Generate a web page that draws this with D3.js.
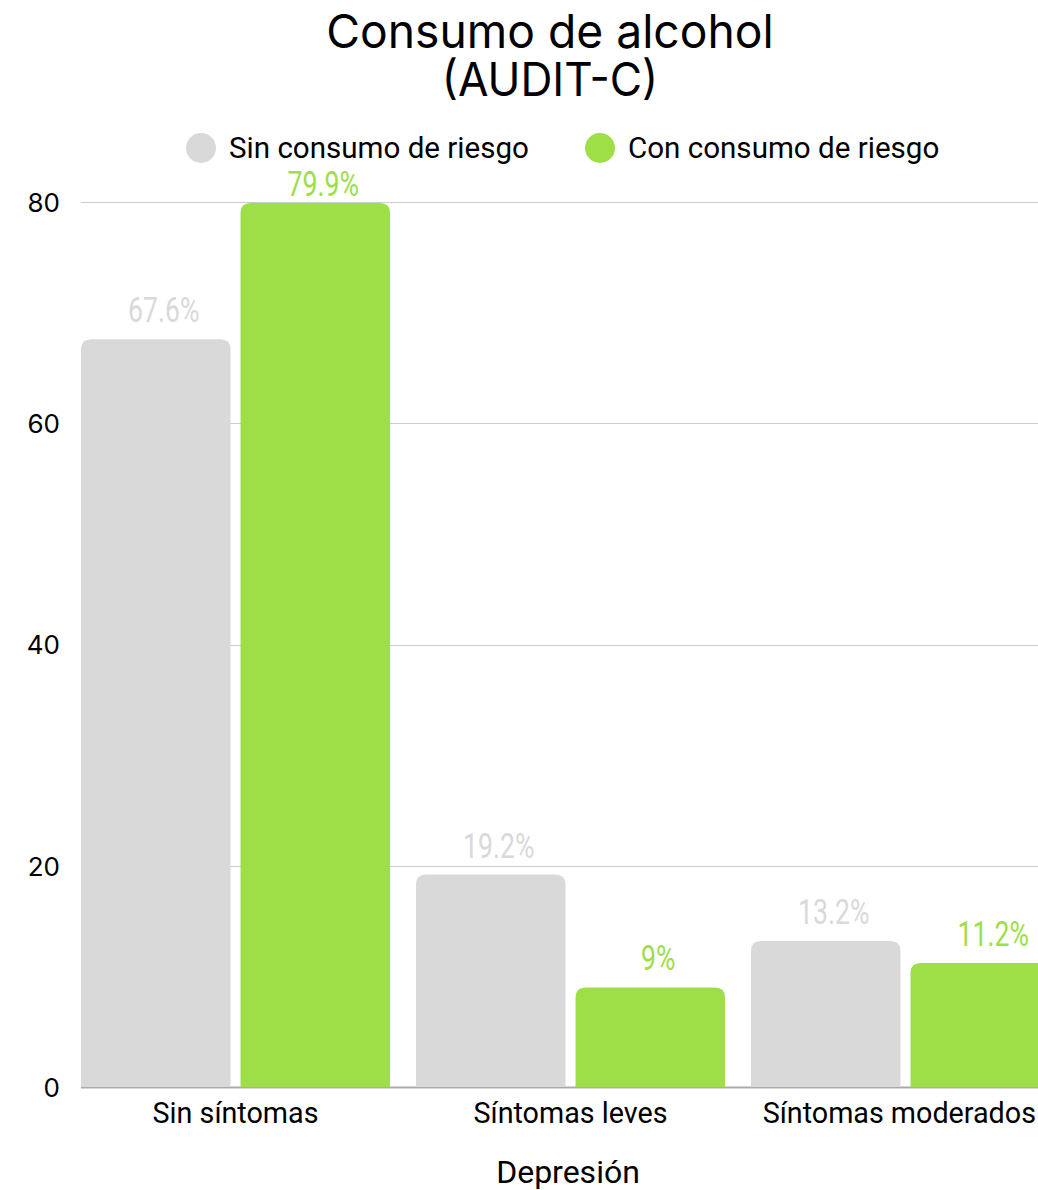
<!DOCTYPE html>
<html><head><meta charset="utf-8">
<script src="https://cdn.jsdelivr.net/npm/d3@7"></script>
<style>body{margin:0;background:#fff;}svg{display:block;}</style>
</head><body>
<svg id="c" width="1038" height="1190"></svg>
<script>
const categories = ["Sin síntomas", "Síntomas leves", "Síntomas moderados"];
const seriesNames = ["Sin consumo de riesgo", "Con consumo de riesgo"];
const sinRiesgo = [67.6, 19.2, 13.2];
const conRiesgo = [79.9, 9, 11.2];
const valueLabelsSin = ["67.6%", "19.2%", "13.2%"];
const valueLabelsCon = ["79.9%", "9%", "11.2%"];
const yTicks = [0, 20, 40, 60, 80];
const titleLines = ["Consumo de alcohol", "(AUDIT-C)"];
const xAxisTitle = "Depresión";
const colors = ["#d9d9d9", "#9ede47"];

(function(){
const svg = d3.select("#c");
const W = 1038, H = 1190;
const mLeft = 81, mRight = 1060, mTop = 202, mBottom = 1087;

const y = d3.scaleLinear().domain([0, 80]).range([mBottom, mTop]);
const x0 = d3.scaleBand().domain(categories).range([mLeft, mRight]).paddingInner(0.0776).paddingOuter(0);
const x1 = d3.scaleBand().domain(seriesNames).range([0, x0.bandwidth()]).paddingInner(0.063);

function condense(sel, k){
  sel.each(function(d,i){
    const kk = typeof k === "function" ? k(d,i) : k;
    const w = this.getComputedTextLength();
    d3.select(this).attr("textLength", w*kk).attr("lengthAdjust","spacingAndGlyphs");
  });
}

svg.append("defs").append("clipPath").attr("id","clip")
  .append("rect").attr("x",0).attr("y",0).attr("width",W).attr("height",H);

// title
svg.append("g").selectAll("text").data(titleLines).join("text")
  .attr("x", 550).attr("y", (d,i)=> i===0 ? 48 : 96)
  .attr("text-anchor","middle")
  .attr("font-family","Inter, 'Liberation Sans', sans-serif")
  .attr("font-size", 47)
  .attr("fill","#000")
  .text(d=>d)
  .call(condense, (d,i)=> i===0 ? 0.983 : 0.94);

// legend
const legX = [201, 600];
const leg = svg.append("g").selectAll("g").data(seriesNames).join("g")
  .attr("transform",(d,i)=>`translate(${legX[i]},148)`);
leg.append("circle").attr("r",15).attr("fill",(d,i)=>colors[i]);
leg.append("text").attr("x",28).attr("y",10)
  .attr("font-family","Roboto, sans-serif").attr("font-size",30).attr("fill","#000")
  .text(d=>d).call(condense, 0.985);

// gridlines
svg.append("g").selectAll("line").data(yTicks.filter(d=>d>0)).join("line")
  .attr("x1",mLeft).attr("x2",W).attr("y1",d=>Math.round(y(d))+0.5).attr("y2",d=>Math.round(y(d))+0.5)
  .attr("stroke","#cccccc").attr("stroke-width",1);
svg.append("line").attr("x1",mLeft).attr("x2",W).attr("y1",mBottom+0.5).attr("y2",mBottom+0.5)
  .attr("stroke","#aaaaaa").attr("stroke-width",2);

// y axis labels
const yAxis = d3.axisLeft(y).tickValues(yTicks).tickSize(0).tickPadding(0);
const yg = svg.append("g").attr("transform",`translate(60,0)`).call(yAxis);
yg.select(".domain").remove();
yg.selectAll("text").attr("font-family","Inter, 'Liberation Sans', sans-serif")
  .attr("font-size",26).attr("fill","#000").attr("dy","0.36em");

function barPath(x, yTop, w, h, r){
  r = Math.min(r, h, w/2);
  return `M${x},${yTop+h}V${yTop+r}Q${x},${yTop} ${x+r},${yTop}H${x+w-r}Q${x+w},${yTop} ${x+w},${yTop+r}V${yTop+h}Z`;
}
const data = categories.map((c,i)=>({cat:c, vals:[
  {s:seriesNames[0], v:sinRiesgo[i], lab:valueLabelsSin[i], ci:0},
  {s:seriesNames[1], v:conRiesgo[i], lab:valueLabelsCon[i], ci:1}]}));
const bars = svg.append("g").attr("clip-path","url(#clip)");
const grp = bars.selectAll("g").data(data).join("g")
  .attr("transform",d=>`translate(${x0(d.cat)},0)`);
grp.selectAll("path").data(d=>d.vals).join("path")
  .attr("d",d=>barPath(x1(d.s), y(d.v), x1.bandwidth(), mBottom - y(d.v), 10))
  .attr("fill",d=>colors[d.ci]);

// value labels (condensed via horizontal scale)
const flat = data.flatMap(d=>d.vals.map(v=>Object.assign({cat:d.cat}, v)));
svg.append("g").selectAll("text").data(flat).join("text")
  .attr("transform",d=>`translate(${x0(d.cat)+x1(d.s)+x1.bandwidth()/2+8},${Math.max(y(d.v)-17, 196)}) scale(0.76,1)`)
  .attr("text-anchor","middle")
  .attr("font-family","Roboto, sans-serif").attr("font-size",35).attr("font-weight",400)
  .attr("fill",d=>colors[d.ci])
  .text(d=>d.lab);

// x axis labels
const xg = svg.append("g").attr("transform",`translate(0,${mBottom})`)
  .call(d3.axisBottom(x0).tickSize(0).tickPadding(0));
xg.select(".domain").remove();
xg.selectAll("text").attr("font-family","Roboto, sans-serif").attr("font-size",29)
  .attr("fill","#000").attr("dy",0).attr("y",36)
  .call(condense, 0.99);
xg.selectAll(".tick").each(function(d){
  const t = d3.select(this).select("text");
  const w = +t.attr("textLength");
  const cx = x0(d)+x0.bandwidth()/2;
  if (cx + w/2 > W-2) t.attr("x", (W-2-w/2) - cx);
});

svg.append("text").attr("x",568).attr("y",1183).attr("text-anchor","middle")
  .attr("font-family","Roboto, sans-serif").attr("font-size",32).attr("fill","#000")
  .text(xAxisTitle).call(condense, 1.0);
})();
</script>
</body></html>
